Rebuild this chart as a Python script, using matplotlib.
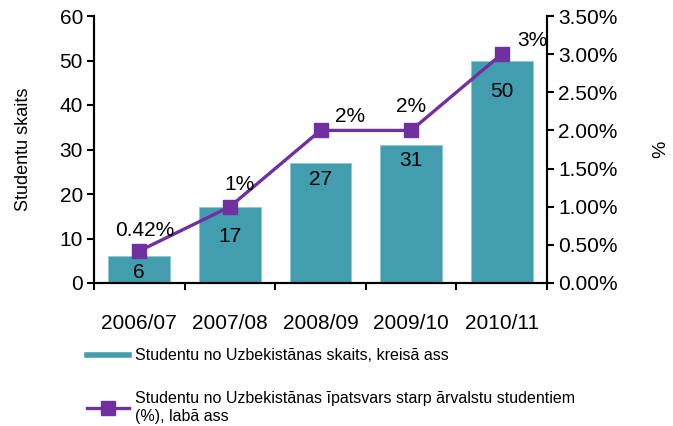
import matplotlib
matplotlib.use("Agg")
import matplotlib.pyplot as plt
from matplotlib.lines import Line2D
from matplotlib.ticker import FuncFormatter, MultipleLocator

plt.rcParams['font.family'] = ['Liberation Sans', 'DejaVu Sans']

years = ["2006/07", "2007/08", "2008/09", "2009/10", "2010/11"]
students = [6, 17, 27, 31, 50]
share = [0.0042, 0.01, 0.02, 0.02, 0.03]
share_labels = ["0.42%", "1%", "2%", "2%", "3%"]

bar_color = "#429EAF"
line_color = "#7030A0"
fs = 15

fig = plt.figure(figsize=(6.73, 4.26), dpi=100)
ax = fig.add_axes([94 / 673, 1 - 283 / 426, 453 / 673, 267 / 426])
ax2 = ax.twinx()

x = list(range(len(years)))
ax.bar(x, students, width=0.68, color=bar_color, edgecolor="#8CC8D2", linewidth=0.6, zorder=2)
ax.set_xlim(-0.5, len(years) - 0.5)
ax.set_ylim(0, 60)
ax.yaxis.set_major_locator(MultipleLocator(10))

ax2.plot(x, share, color=line_color, lw=2.4, marker="s", markersize=10, zorder=3)
ax2.set_ylim(0, 0.035)
ax2.yaxis.set_major_locator(MultipleLocator(0.005))
ax2.yaxis.set_major_formatter(FuncFormatter(lambda v, p: f"{v * 100:.2f}%"))

# category labels centred, tick marks at category boundaries
ax.set_xticks(x)
ax.set_xticklabels(years, fontsize=fs)
ax.tick_params(axis="x", length=0, pad=22)
ax.set_xticks([i - 0.5 for i in range(len(years) + 1)], minor=True)
ax.tick_params(axis="x", which="minor", length=5, width=1.5, direction="out")

for a in (ax, ax2):
    a.spines["top"].set_visible(False)
    for s in ("left", "right", "bottom"):
        a.spines[s].set_linewidth(1.5)
ax.tick_params(axis="y", labelsize=fs, length=5, width=1.5, direction="out", pad=3)
ax2.tick_params(axis="y", labelsize=fs, length=5, width=1.5, direction="out", pad=3)

ax.set_ylabel("Studentu skaits", fontsize=13, labelpad=20)
ax2.set_ylabel("%", fontsize=14, labelpad=25)

# bar value labels inside the bar tops
bar_offsets = [-12, -21, -12, -11, -22]
for i, v in enumerate(students):
    ax.annotate(str(v), (i, v), xytext=(0, bar_offsets[i]), textcoords="offset points",
                ha="center", va="center", fontsize=fs, zorder=5)

# share labels near the line markers
line_offsets = [(4, 15), (7, 16), (21, 10), (0, 17), (22, 10)]
for i, (v, lab) in enumerate(zip(share, share_labels)):
    ax2.annotate(lab, (i, v), xytext=line_offsets[i], textcoords="offset points",
                 ha="center", va="center", fontsize=fs, zorder=5)

handles = [
    Line2D([], [], color=bar_color, lw=4),
    Line2D([], [], color=line_color, lw=2.4, marker="s", markersize=10),
]
labels = [
    "Studentu no Uzbekistānas skaits, kreisā ass",
    "Studentu no Uzbekistānas īpatsvars starp ārvalstu studentiem\n(%), labā ass",
]
fig.legend(handles, labels, loc="upper left", bbox_to_anchor=(81 / 673, 1 - 342 / 426),
           frameon=False, fontsize=11.5, handlelength=2.6, handletextpad=0.4,
           labelspacing=1.75, borderaxespad=0)

fig.savefig("out.png", dpi=100)
